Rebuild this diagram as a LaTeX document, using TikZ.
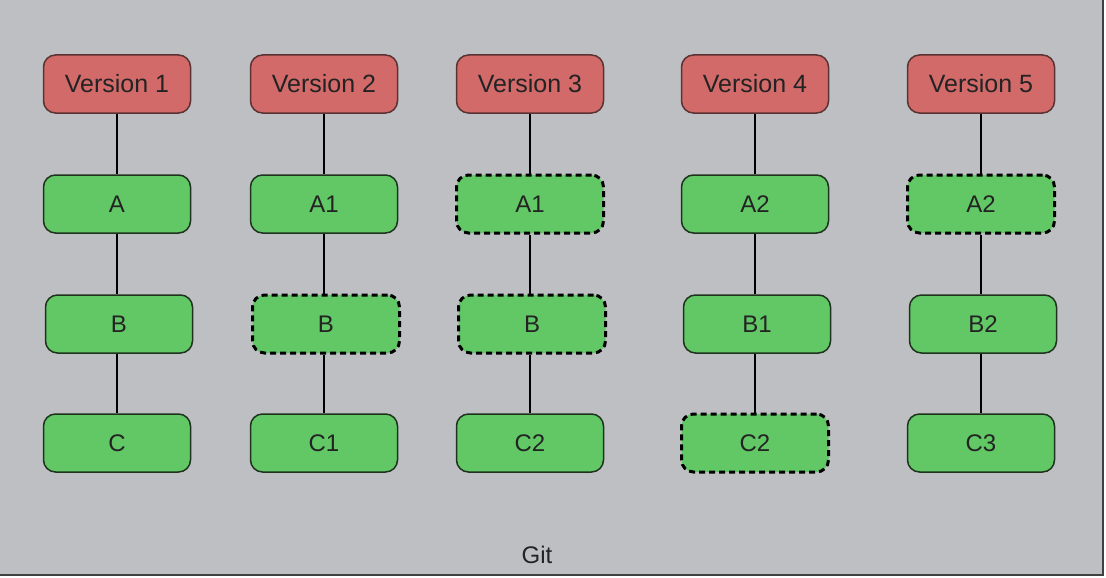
\documentclass[tikz,border=0pt]{standalone}
\usepackage{fontspec}
\setmainfont{Liberation Sans}
\definecolor{bg}{RGB}{190,191,195}
\definecolor{verfill}{RGB}{211,106,106}
\definecolor{verdraw}{RGB}{90,50,50}
\definecolor{filefill}{RGB}{98,200,102}
\definecolor{filedraw}{RGB}{30,50,30}
\definecolor{txt}{RGB}{35,35,35}
\begin{document}
\begin{tikzpicture}[x=1pt,y=-1pt,
  verbox/.style={draw=verdraw,fill=verfill,line width=1.5pt,rounded corners=12pt,minimum width=147pt,minimum height=58pt,inner sep=0pt,font=\fontsize{25}{28}\selectfont,text=txt},
  filebox/.style={draw=filedraw,fill=filefill,line width=1.5pt,rounded corners=12pt,minimum width=147pt,minimum height=58pt,inner sep=0pt,font=\fontsize{24}{27}\selectfont,text=txt},
  linked/.style={dash pattern=on 6pt off 4pt,line width=3pt,draw=black},
  conn/.style={line width=2pt,draw=black}]
\useasboundingbox (0,0) rectangle (1106,578);
\fill[bg] (0,0) rectangle (1103,575);
\draw[line width=2pt,draw=black!75] (1103,0) -- (1103,575) -- (0,575);
% column centres
\def\ca{117}\def\cb{324}\def\cc{530}\def\cd{755}\def\ce{981}
\def\ra{84}\def\rb{204}\def\rc{324}\def\rd{443}
% column 1
\node[verbox] (v1) at (\ca,\ra) {Version 1};
\node[filebox] (a1) at (\ca,\rb) {A};
\node[filebox] (b1) at (\ca+2,\rc) {B};
\node[filebox] (c1) at (\ca,\rd) {C};
% column 2
\node[verbox] (v2) at (\cb,\ra) {Version 2};
\node[filebox] (a2) at (\cb,\rb) {A1};
\node[filebox,linked] (b2) at (\cb+2,\rc) {B};
\node[filebox] (c2) at (\cb,\rd) {C1};
% column 3
\node[verbox] (v3) at (\cc,\ra) {Version 3};
\node[filebox,linked] (a3) at (\cc,\rb) {A1};
\node[filebox,linked] (b3) at (\cc+2,\rc) {B};
\node[filebox] (c3) at (\cc,\rd) {C2};
% column 4
\node[verbox] (v4) at (\cd,\ra) {Version 4};
\node[filebox] (a4) at (\cd,\rb) {A2};
\node[filebox] (b4) at (\cd+2,\rc) {B1};
\node[filebox,linked] (c4) at (\cd,\rd) {C2};
% column 5
\node[verbox] (v5) at (\ce,\ra) {Version 5};
\node[filebox,linked] (a5) at (\ce,\rb) {A2};
\node[filebox] (b5) at (\ce+2,\rc) {B2};
\node[filebox] (c5) at (\ce,\rd) {C3};
% connectors
\foreach \i in {1,...,5}{
  \draw[conn] (v\i.south) -- (a\i.north);
  \draw[conn] (a\i.south) -- (a\i.south |- b\i.north);
  \draw[conn] (b\i.south -| c\i.north) -- (c\i.north);
}
\node[font=\fontsize{24}{27}\selectfont,text=txt] (git) at (537,555) {Git};
\end{tikzpicture}
\end{document}
